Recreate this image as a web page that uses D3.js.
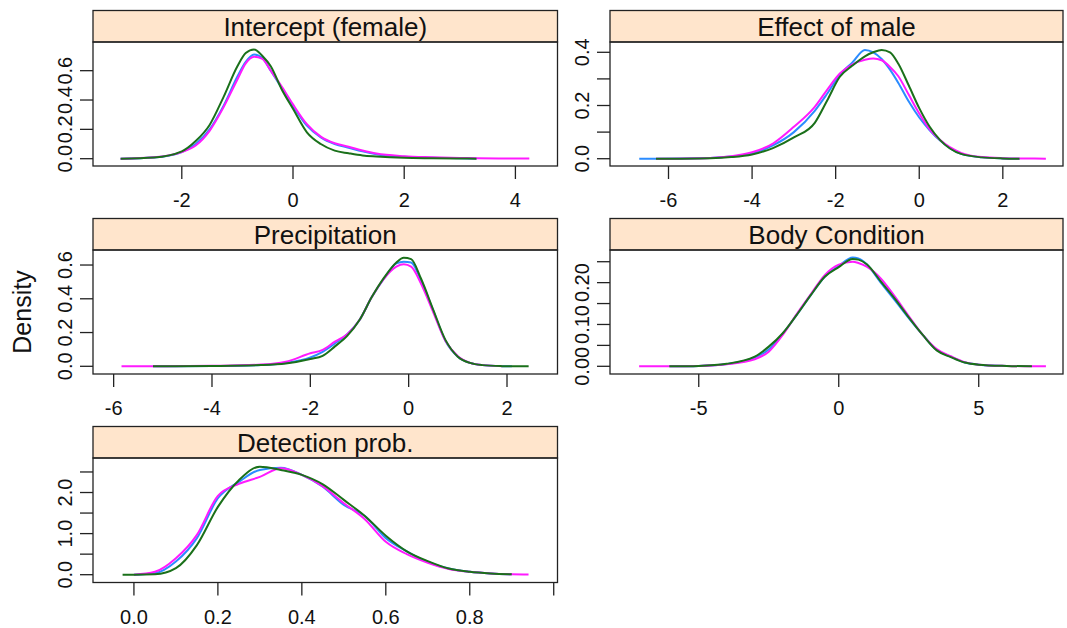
<!DOCTYPE html>
<html>
<head>
<meta charset="utf-8">
<script src="https://cdn.jsdelivr.net/npm/d3@7"></script>
<style>
  body { margin: 0; background: #fff; }
  svg { display: block; font-family: "Liberation Sans", Arial, sans-serif; }
</style>
</head>
<body>
<div id="chart"></div>
<script>
// chart values
const titles = ["Intercept (female)", "Effect of male", "Precipitation", "Body Condition", "Detection prob."];
const chainColours = ["#2b8cff", "#ff1aff", "#1a701a"];   // chain 1, 2, 3

// Intercept (female)
const interceptX = [-3.1, -2.5, -2.0, -1.75, -1.5, -1.25, -1.0, -0.85, -0.7, -0.55, -0.4, -0.2, 0, 0.25, 0.5, 0.75, 1.0, 1.25, 1.5, 2.0, 2.5, 3.0, 3.3, 3.7, 4.25];
const interceptBlue    = [0, 0.008, 0.045, 0.10, 0.20, 0.36, 0.56, 0.66, 0.71, 0.685, 0.60, 0.48, 0.36, 0.225, 0.145, 0.10, 0.075, 0.05, 0.03, 0.013, 0.006, 0.003, 0.001, null, null];
const interceptMagenta = [0, 0.01, 0.045, 0.09, 0.19, 0.35, 0.54, 0.65, 0.695, 0.68, 0.60, 0.49, 0.37, 0.235, 0.15, 0.105, 0.082, 0.056, 0.035, 0.017, 0.01, 0.005, 0.003, 0.002, 0.001];
const interceptGreen   = [0, 0.008, 0.05, 0.12, 0.23, 0.42, 0.63, 0.72, 0.745, 0.70, 0.63, 0.47, 0.34, 0.18, 0.10, 0.055, 0.037, 0.022, 0.015, 0.006, 0.003, 0.001, 0, null, null];

// Effect of male
const maleX = [-6.7, -6.3, -5.0, -4.5, -4.0, -3.5, -3.0, -2.5, -2.2, -1.9, -1.6, -1.3, -1.1, -0.9, -0.7, -0.5, -0.25, 0, 0.25, 0.5, 1.0, 1.5, 2.0, 2.4, 3.03];
const maleBlue    = [0, 0, 0.003, 0.008, 0.02, 0.05, 0.10, 0.18, 0.245, 0.315, 0.362, 0.409, 0.40, 0.375, 0.335, 0.285, 0.215, 0.155, 0.107, 0.068, 0.018, 0.005, 0.001, 0, null];
const maleMagenta = [null, 0, 0.003, 0.009, 0.024, 0.057, 0.12, 0.195, 0.26, 0.32, 0.355, 0.372, 0.377, 0.37, 0.345, 0.31, 0.24, 0.17, 0.11, 0.07, 0.022, 0.006, 0.002, 0.001, 0];
const maleGreen   = [null, 0, 0.002, 0.006, 0.016, 0.04, 0.08, 0.135, 0.22, 0.308, 0.35, 0.385, 0.40, 0.409, 0.40, 0.357, 0.275, 0.19, 0.12, 0.07, 0.018, 0.005, 0.001, 0, null];

// Precipitation
const precipX = [-5.84, -5.2, -4.0, -3.0, -2.5, -2.0, -1.75, -1.5, -1.25, -1.0, -0.75, -0.5, -0.25, -0.1, 0.05, 0.25, 0.5, 0.75, 1.0, 1.25, 1.5, 1.9, 2.1, 2.44];
const precipBlue    = [null, 0, 0.002, 0.008, 0.02, 0.052, 0.085, 0.135, 0.19, 0.274, 0.41, 0.52, 0.61, 0.62, 0.615, 0.51, 0.33, 0.15, 0.057, 0.02, 0.007, 0.001, 0, null];
const precipMagenta = [0, 0, 0.003, 0.01, 0.027, 0.077, 0.097, 0.146, 0.19, 0.274, 0.41, 0.52, 0.59, 0.604, 0.59, 0.49, 0.32, 0.15, 0.06, 0.02, 0.007, 0.001, null, null];
const precipGreen   = [null, 0, 0.002, 0.007, 0.016, 0.043, 0.062, 0.118, 0.18, 0.274, 0.41, 0.525, 0.615, 0.643, 0.635, 0.52, 0.335, 0.155, 0.057, 0.02, 0.007, 0.001, 0, 0];

// Body Condition
const bodyX = [-7.13, -6.05, -5, -4, -3, -2.5, -2, -1.5, -1, -0.5, 0, 0.5, 0.7, 1, 1.5, 2, 2.5, 3, 3.5, 4, 4.5, 5, 6, 6.9, 7.4];
const bodyBlue    = [null, 0, 0.001, 0.0055, 0.021, 0.04, 0.078, 0.123, 0.17, 0.214, 0.24, 0.26, 0.258, 0.244, 0.20, 0.158, 0.115, 0.075, 0.039, 0.023, 0.009, 0.004, 0.001, null, null];
const bodyMagenta = [0, 0, 0.001, 0.005, 0.017, 0.035, 0.075, 0.125, 0.172, 0.218, 0.243, 0.25, 0.247, 0.238, 0.21, 0.167, 0.12, 0.075, 0.041, 0.024, 0.01, 0.004, 0.001, 0, 0];
const bodyGreen   = [null, 0, 0.001, 0.006, 0.023, 0.047, 0.079, 0.123, 0.17, 0.214, 0.237, 0.2565, 0.255, 0.244, 0.203, 0.162, 0.117, 0.075, 0.038, 0.022, 0.009, 0.004, 0.001, 0, null];

// Detection prob.
const detectX = [-0.027, 0, 0.05, 0.1, 0.15, 0.2, 0.25, 0.3, 0.35, 0.4, 0.45, 0.5, 0.55, 0.6, 0.65, 0.7, 0.75, 0.8, 0.85, 0.9, 0.94];
const detectBlue    = [null, 0, 0.035, 0.32, 0.89, 1.86, 2.26, 2.55, 2.6, 2.43, 2.14, 1.70, 1.43, 0.89, 0.57, 0.31, 0.15, 0.07, 0.03, 0.01, null];
const detectMagenta = [null, 0, 0.07, 0.40, 0.97, 1.92, 2.21, 2.38, 2.59, 2.43, 2.15, 1.74, 1.35, 0.80, 0.50, 0.29, 0.14, 0.07, 0.03, 0.01, 0.005];
const detectGreen   = [0, 0, 0.01, 0.16, 0.72, 1.65, 2.3, 2.63, 2.55, 2.43, 2.2, 1.82, 1.43, 0.95, 0.57, 0.33, 0.15, 0.07, 0.03, 0.01, null];

// tick values and labels
const interceptXTicks = [-2, 0, 2, 4];
const maleXTicks = [-6, -4, -2, 0, 2];
const precipXTicks = [-6, -4, -2, 0, 2];
const bodyXTicks = [-5, 0, 5];
const detectXTicks = [0, 0.2, 0.4, 0.6, 0.8, 1.0];
const detectXLabels = ["0.0", "0.2", "0.4", "0.6", "0.8", ""];

const interceptYTicks = [0, 0.2, 0.4, 0.6];
const interceptYLabels = ["0.0", "0.2", "0.4", "0.6"];
const maleYTicks = [0, 0.1, 0.2, 0.3, 0.4];
const maleYLabels = ["0.0", "", "0.2", "", "0.4"];
const precipYTicks = [0, 0.2, 0.4, 0.6];
const precipYLabels = ["0.0", "0.2", "0.4", "0.6"];
const bodyYTicks = [0, 0.05, 0.10, 0.15, 0.20, 0.25];
const bodyYLabels = ["0.00", "", "0.10", "", "0.20", ""];
const detectYTicks = [0, 0.5, 1.0, 1.5, 2.0, 2.5];
const detectYLabels = ["0.0", "", "1.0", "", "2.0", ""];

// layout
const W = 1067, H = 628;
const cols = [{ x0: 93, x1: 557.5 }, { x0: 610, x1: 1063 }];
const rows = [{ s0: 10.5, s1: 42, p1: 166 }, { s0: 218.5, s1: 250, p1: 374 }, { s0: 426.5, s1: 458, p1: 582.5 }];

const panels = [
  { title: titles[0], col: 0, row: 0, xs: interceptX, ys: [interceptBlue, interceptMagenta, interceptGreen],
    xDomain: [-3.597, 4.757], yDomain: [-0.0498, 0.7955],
    xTicks: interceptXTicks, xLabels: interceptXTicks.map(String), yTicks: interceptYTicks, yLabels: interceptYLabels },
  { title: titles[1], col: 1, row: 0, xs: maleX, ys: [maleBlue, maleMagenta, maleGreen],
    xDomain: [-7.40, 3.44], yDomain: [-0.0274, 0.4387],
    xTicks: maleXTicks, xLabels: maleXTicks.map(String), yTicks: maleYTicks, yLabels: maleYLabels },
  { title: titles[2], col: 0, row: 1, xs: precipX, ys: [precipBlue, precipMagenta, precipGreen],
    xDomain: [-6.42, 3.027], yDomain: [-0.0456, 0.689],
    xTicks: precipXTicks, xLabels: precipXTicks.map(String), yTicks: precipYTicks, yLabels: precipYLabels },
  { title: titles[3], col: 1, row: 1, xs: bodyX, ys: [bodyBlue, bodyMagenta, bodyGreen],
    xDomain: [-8.17, 8.01], yDomain: [-0.0184, 0.278],
    xTicks: bodyXTicks, xLabels: bodyXTicks.map(String), yTicks: bodyYTicks, yLabels: bodyYLabels },
  { title: titles[4], col: 0, row: 2, xs: detectX, ys: [detectBlue, detectMagenta, detectGreen],
    xDomain: [-0.0975, 1.009], yDomain: [-0.19, 2.84],
    xTicks: detectXTicks, xLabels: detectXLabels, yTicks: detectYTicks, yLabels: detectYLabels }
];

const svg = d3.select("#chart")
  .append("svg")
  .attr("width", W)
  .attr("height", H);

function drawPanel(p) {
  const c = cols[p.col], r = rows[p.row];
  const x = d3.scaleLinear().domain(p.xDomain).range([c.x0, c.x1]);
  const y = d3.scaleLinear().domain(p.yDomain).range([r.p1, r.s1]);
  const g = svg.append("g");

  // strip
  g.append("rect")
    .attr("x", c.x0).attr("y", r.s0)
    .attr("width", c.x1 - c.x0).attr("height", r.s1 - r.s0)
    .attr("fill", "#ffe5cc").attr("stroke", "#222").attr("stroke-width", 1.3);
  g.append("text")
    .attr("x", (c.x0 + c.x1) / 2).attr("y", r.s1 - 6)
    .attr("text-anchor", "middle")
    .attr("font-size", 26).attr("fill", "#111")
    .text(p.title);

  // density lines, chain by chain
  const line = d3.line()
    .defined(d => d[1] !== null)
    .x(d => x(d[0]))
    .y(d => y(d[1]))
    .curve(d3.curveMonotoneX);

  p.ys.forEach(function (vals, i) {
    g.append("path")
      .datum(p.xs.map((v, k) => [v, vals[k]]))
      .attr("d", line)
      .attr("fill", "none")
      .attr("stroke", chainColours[i])
      .attr("stroke-width", 2)
      .attr("stroke-linejoin", "round");
  });

  // panel box
  g.append("rect")
    .attr("x", c.x0).attr("y", r.s1)
    .attr("width", c.x1 - c.x0).attr("height", r.p1 - r.s1)
    .attr("fill", "none").attr("stroke", "#222").attr("stroke-width", 1.3);

  // bottom axis
  p.xTicks.forEach(function (t, i) {
    g.append("line")
      .attr("x1", x(t)).attr("x2", x(t))
      .attr("y1", r.p1).attr("y2", r.p1 + 13)
      .attr("stroke", "#222").attr("stroke-width", 1.3);
    g.append("text")
      .attr("x", x(t)).attr("y", r.p1 + 41)
      .attr("text-anchor", "middle")
      .attr("font-size", 20).attr("fill", "#111")
      .text(p.xLabels[i]);
  });

  // left axis, labels turned on their side
  p.yTicks.forEach(function (t, i) {
    g.append("line")
      .attr("x1", c.x0 - 13).attr("x2", c.x0)
      .attr("y1", y(t)).attr("y2", y(t))
      .attr("stroke", "#222").attr("stroke-width", 1.3);
    if (p.yLabels[i] !== "") {
      g.append("text")
        .attr("transform", "translate(" + (c.x0 - 21) + "," + y(t) + ") rotate(-90)")
        .attr("text-anchor", "middle")
        .attr("font-size", 20).attr("fill", "#111")
        .text(p.yLabels[i]);
    }
  });
}

panels.forEach(drawPanel);

svg.append("text")
  .attr("transform", "translate(31,312) rotate(-90)")
  .attr("text-anchor", "middle")
  .attr("font-size", 25).attr("fill", "#111")
  .text("Density");
</script>
</body>
</html>
